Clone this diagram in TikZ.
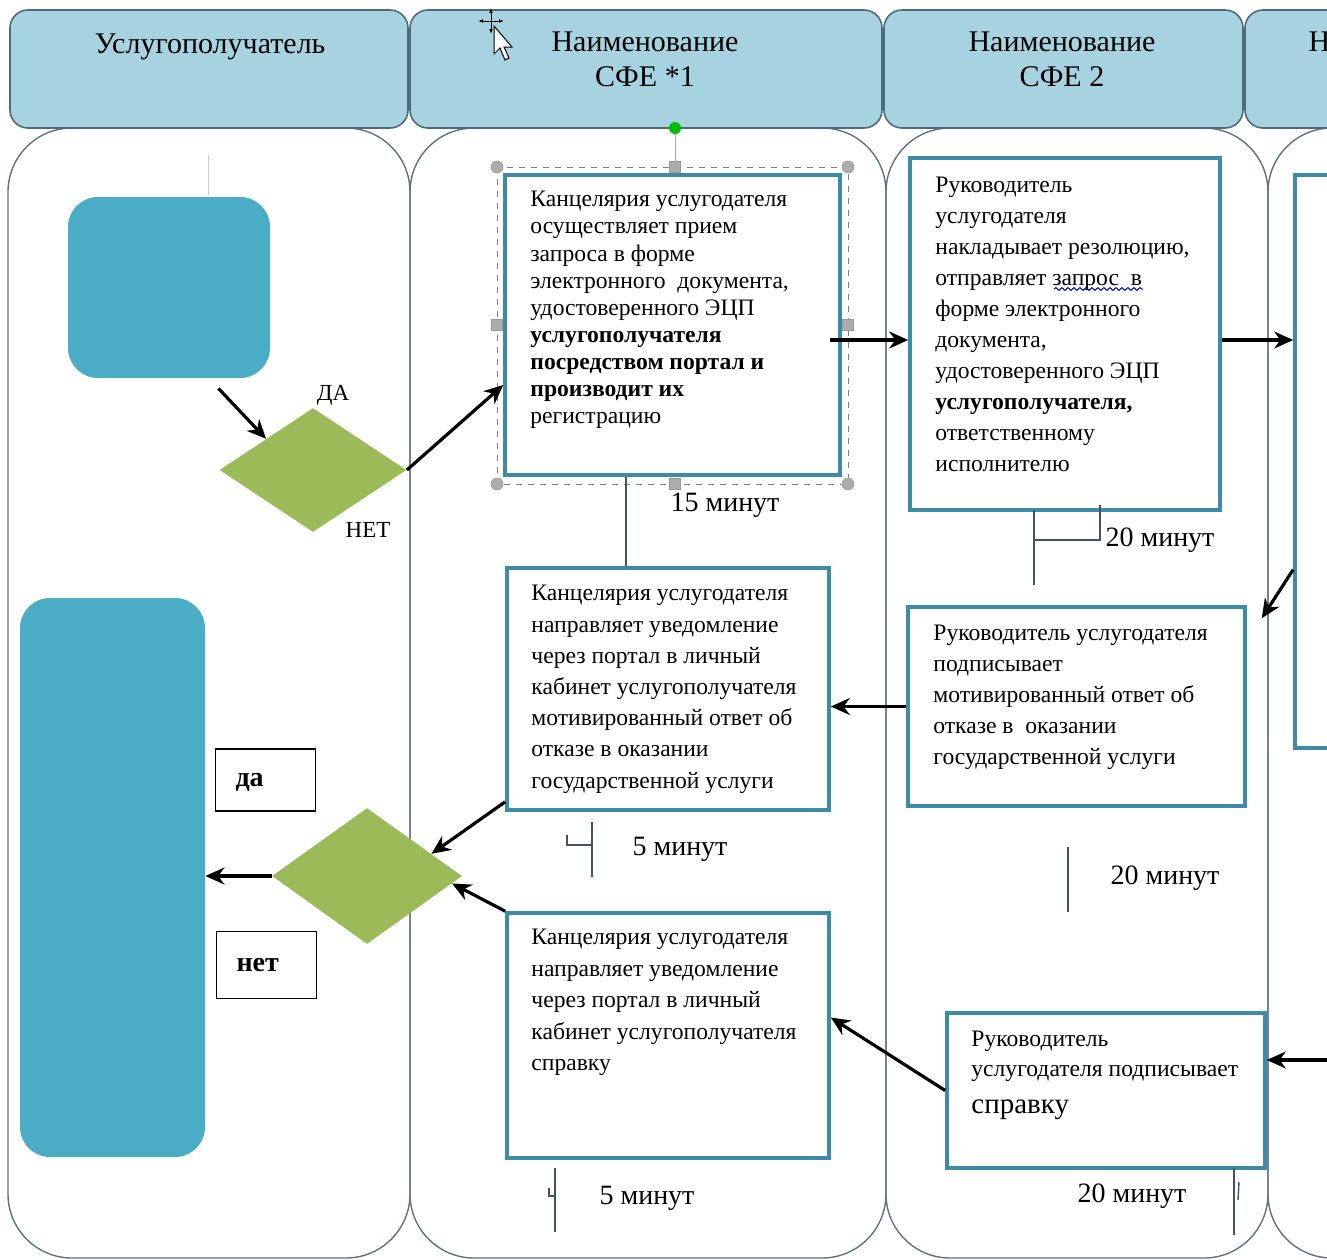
\documentclass[tikz,border=0pt]{standalone}
\usepackage{fontspec}
\setmainfont{Liberation Serif}
\usetikzlibrary{shapes.geometric, arrows.meta, fit, decorations.pathmorphing}

\definecolor{headfill}{HTML}{A7D3E0}
\definecolor{headline}{HTML}{4E6B7A}
\definecolor{laneline}{HTML}{5E7283}
\definecolor{boxline}{HTML}{3D8BA6}
\definecolor{aqua}{HTML}{4BACC6}
\definecolor{olive}{HTML}{9BBB59}
\definecolor{tickline}{HTML}{3F5468}

\begin{document}
\begin{tikzpicture}[x=0.5pt, y=-0.5pt,
    head/.style={draw=headline, fill=headfill, line width=0.8pt, rounded corners=9pt, inner sep=0pt},
    headtxt/.style={font=\fontsize{15}{17.5}\selectfont, align=center, anchor=north, inner sep=0pt},
    lane/.style={draw=laneline, line width=0.7pt, rounded corners=32pt},
    box/.style={draw=boxline, fill=white, line width=1.8pt, inner sep=0pt},
    txt/.style={font=\fontsize{11.8}{15.5}\selectfont, align=left, anchor=north west, inner sep=0pt},
    term/.style={fill=aqua, rounded corners=15pt, inner sep=0pt},
    decision/.style={diamond, fill=olive, inner sep=0pt},
    lblbox/.style={draw, line width=0.9pt, minimum width=50pt, text width=30pt, inner xsep=10pt, align=left, text height=6.5pt, text depth=0pt, font=\fontsize{14}{16}\selectfont\bfseries},
    small/.style={font=\fontsize{11.5}{13}\selectfont, inner sep=0pt},
    time/.style={font=\fontsize{14}{16}\selectfont, inner sep=0pt},
    arrow/.style={-{Stealth[length=9.5pt, width=8.5pt]}, line width=1.6pt},
    link/.style={draw=tickline, line width=0.7pt},
    handle/.style={fill=gray!65, draw=gray!80, line width=0.3pt}
]
    \useasboundingbox (0,0) rectangle (1327,1259);
    \clip (0,0) rectangle (1327,1259);

    % lanes
    \draw[lane] (8,128) rectangle (410,1258);
    \draw[lane] (410,128) rectangle (886,1258);
    \draw[lane] (886,128) rectangle (1268,1258);
    \draw[lane] (1268,128) rectangle (1700,1258);

    % headers
    \node[head, fit={(10,10) (408,128)}] (h1) {};
    \node[head, fit={(410,10) (882,128)}] (h2) {};
    \node[head, fit={(884,10) (1243,128)}] (h3) {};
    \node[head, fit={(1245,10) (1545,128)}] (h4) {};
    \node[headtxt] (h1t) at (210,33) {Услугополучатель};
    \node[headtxt] (h2t) at (645,31) {Наименование\\СФЕ *1};
    \node[headtxt] (h3t) at (1062,31) {Наименование\\СФЕ 2};
    \node[headtxt] (h4t) at (1402,31) {Наименование};

    \draw[gray!40, line width=0.4pt] (208,155) -- (208,195);

    % service recipient lane
    \node[term, fit={(68,197) (270,378)}] (client) {};
    \node[term, fit={(20,598) (205,1157)}] (result) {};
    \node[decision, minimum width=93.5pt, minimum height=62pt] (dec1) at (313,470) {};
    \node[decision, minimum width=95pt, minimum height=68pt] (dec2) at (367,876) {};
    \node[small] (yes1) at (333,395) {ДА};
    \node[small] (no1) at (368,530) {НЕТ};
    \node[lblbox, minimum height=31pt] (yes2) at (265.5,780) {да};
    \node[lblbox, minimum height=33.5pt] (no2) at (266.5,965) {нет};

    % process boxes
    \node[box, fit={(505,175) (840,475)}] (b1) {};
    \node[box, fit={(910,158) (1220,510)}] (b2) {};
    \node[box, fit={(1295,175) (1700,748)}] (b3) {};
    \node[box, fit={(507,568) (829,810)}] (b4) {};
    \node[box, fit={(908,607) (1245,806)}] (b5) {};
    \node[box, fit={(507,913) (829,1158)}] (b6) {};
    \node[box, fit={(947,1013) (1265,1168)}] (b7) {};

    \node[txt, font=\fontsize{11.8}{13.55}\selectfont] (b1t) at (530,191) {Канцелярия услугодателя\\осуществляет прием\\запроса в форме\\электронного\ \ документа,\\удостоверенного ЭЦП\\\textbf{услугополучателя}\\\textbf{посредством портал и}\\\textbf{производит их}\\регистрацию};
    \node[txt] (b2t) at (935,177) {Руководитель\\услугодателя\\накладывает резолюцию,\\отправляет запрос\ \ в\\форме электронного\\документа,\\удостоверенного ЭЦП\\\textbf{услугополучателя,}\\ответственному\\исполнителю};
    \node[txt, font=\fontsize{11.8}{15.6}\selectfont] (b4t) at (531,585) {Канцелярия услугодателя\\направляет уведомление\\через портал в личный\\кабинет услугополучателя\\мотивированный ответ об\\отказе в оказании\\государственной услуги};
    \node[txt] (b5t) at (933,625) {Руководитель услугодателя\\подписывает\\мотивированный ответ об\\отказе в\ \ оказании\\государственной услуги};
    \node[txt, font=\fontsize{11.8}{15.75}\selectfont] (b6t) at (531,929) {Канцелярия услугодателя\\направляет уведомление\\через портал в личный\\кабинет услугополучателя\\справку};
    \node[txt, font=\fontsize{11.8}{15}\selectfont] (b7t) at (971,1031) {Руководитель\\услугодателя подписывает\\[3.5pt]{\fontsize{14.5}{16}\selectfont справку}};
    \draw[blue!70!black, line width=0.5pt, decorate, decoration={snake, amplitude=0.7pt, segment length=3pt}] (1054,289) -- (1143,289);

    % selection frame of the first box
    \draw[gray, dashed, line width=0.4pt] (497,167) rectangle (848,484);
    \draw[gray!70, line width=0.5pt] (675,128) -- (675,167);
    \fill[green!75!black] (675,128) circle (3pt);
    \draw[handle] (497,167) circle (3pt);
    \draw[handle] (848,167) circle (3pt);
    \draw[handle] (497,484) circle (3pt);
    \draw[handle] (848,484) circle (3pt);
    \draw[handle] (669.5,161.5) rectangle (680.5,172.5);
    \draw[handle] (669.5,478.5) rectangle (680.5,489.5);
    \draw[handle] (491.5,319.5) rectangle (502.5,330.5);
    \draw[handle] (842.5,319.5) rectangle (853.5,330.5);

    % cursor
    \draw[line width=0.5pt, {Latex[length=2.5pt]}-{Latex[length=2.5pt]}] (478,21) -- (504,21);
    \draw[line width=0.5pt, {Latex[length=2.5pt]}-{Latex[length=2.5pt]}] (491,8) -- (491,34);
    \draw[fill=white, line width=0.5pt] (494,26) -- (494,54) -- (500,48) -- (505,60) -- (509,58) -- (504,47) -- (512,47) -- cycle;

    % connectors
    \draw[arrow] ([shift={(-52,10)}]client.south east) -- (dec1.north west);
    \draw[arrow] (dec1.east) -- ([shift={(0,60)}]b1.west);
    \coordinate (b1out) at ([shift={(-12,15)}]b1.east);
    \draw[arrow] (b1out) -- (b1out -| b2.west);
    \coordinate (b2out) at ([shift={(0,6)}]b2.east);
    \draw[arrow] (b2out) -- (b2out -| b3.west);
    \draw[arrow] ([shift={(0,108)}]b3.west) -- ([shift={(15,13)}]b5.north east);
    \draw[arrow] (b5.west) -- (b5.west -| b4.east);
    \draw[arrow] ([shift={(0,-10)}]b4.south west) -- (dec2.19);
    \draw[arrow] (b6.north west) -- (dec2.-5);
    \draw[arrow] (dec2.west) -- (dec2.west -| result.east);
    \draw[arrow] (b7.west) -- ([shift={(0,-18)}]b6.east);
    \coordinate (in3) at (1340,1060);
    \draw[arrow] (in3) -- (in3 -| b7.east);

    % time marks
    \draw[link] ([shift={(-46.5,0)}]b1.south) -- ([shift={(-46.5,0)}]b1.south |- b4.north);
    \node[time] (t1) at (725,505) {15 минут};
    \draw[link] (1034,510) -- (1034,585);
    \draw[link] (1034,540) -- (1100,540) -- (1100,505);
    \node[time] (t2) at (1160,540) {20 минут};
    \draw[link] (592,822) -- (592,877);
    \draw[link] (567,835) -- (567,845) -- (592,845);
    \node[time] (t3) at (680,849) {5 минут};
    \draw[link] (1068,847) -- (1068,912);
    \node[time] (t4) at (1165,878) {20 минут};
    \draw[link] (555,1168) -- (555,1232);
    \draw[link] (549,1188) -- (549,1196) -- (555,1196);
    \node[time] (t5) at (647,1198) {5 минут};
    \draw[link] (1234,1168) -- (1234,1235);
    \draw[link] (1239,1182) -- (1238,1200);
    \node[time] (t6) at (1132,1196) {20 минут};
\end{tikzpicture}
\end{document}
